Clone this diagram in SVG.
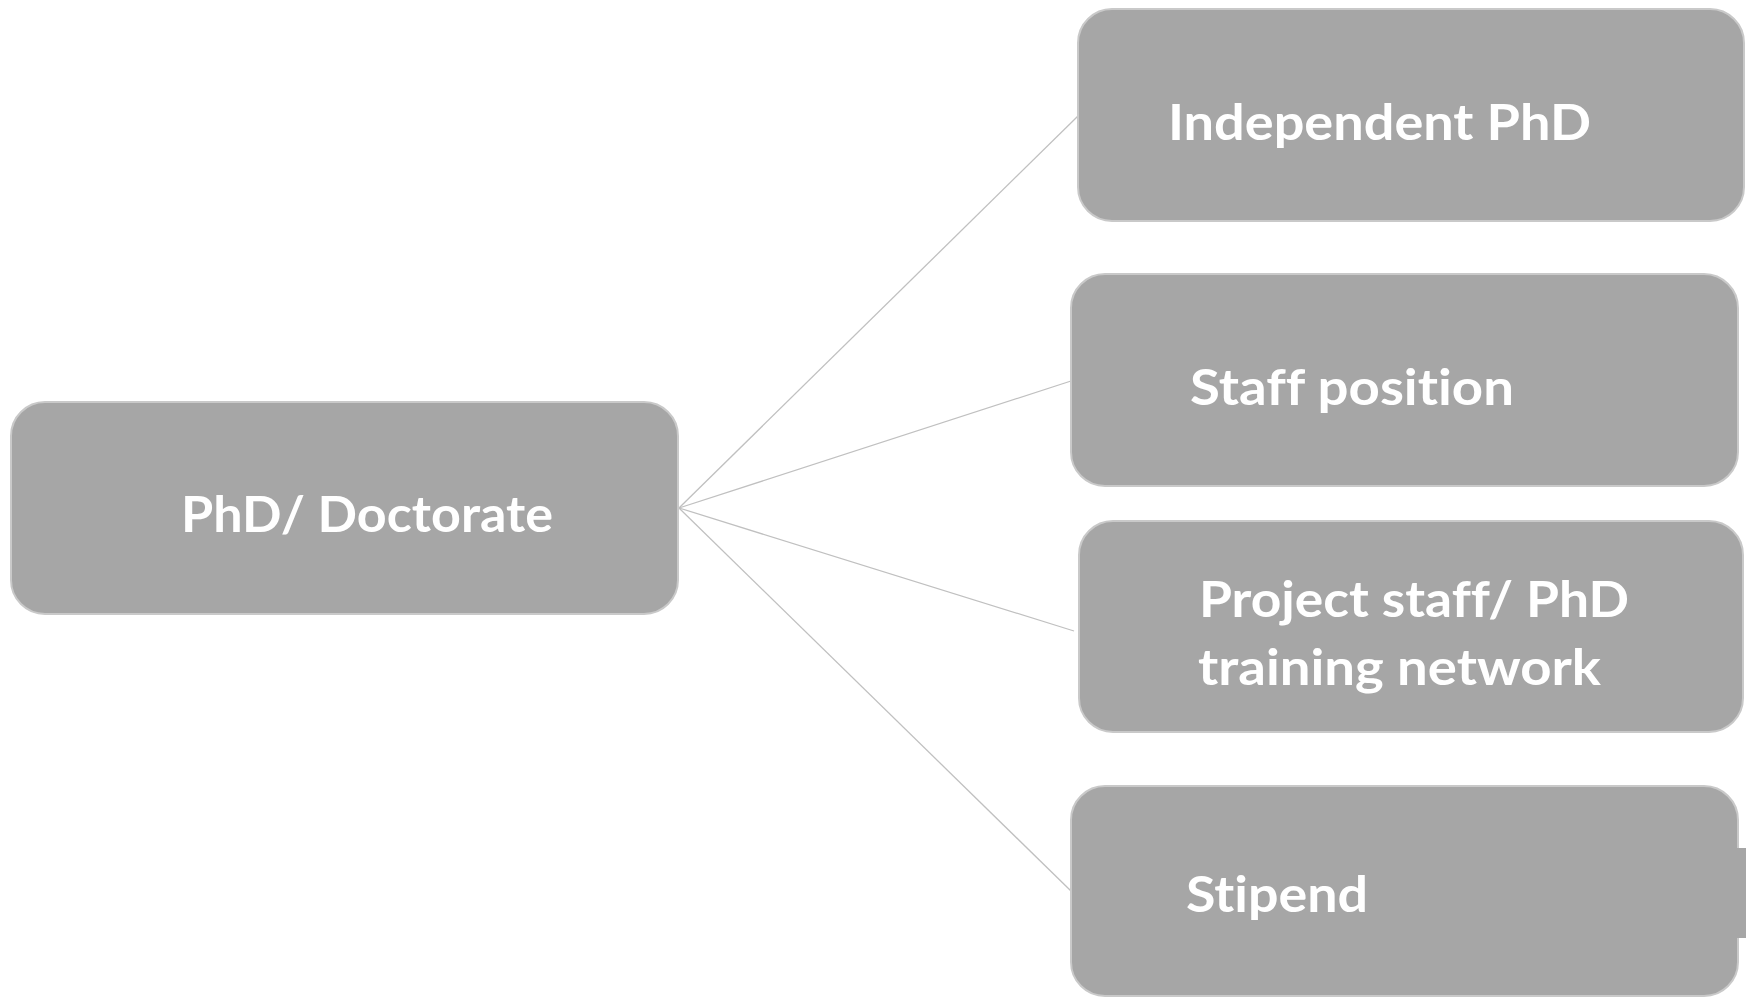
<svg xmlns="http://www.w3.org/2000/svg" width="1750" height="998" viewBox="0 0 1750 998">
<style>
.box{fill:#a6a6a6;stroke:#c9c9c9;stroke-width:2}
.lbl{font-family:Lato,"Open Sans","Liberation Sans",sans-serif;font-weight:bold;font-size:50px;fill:#ffffff;font-variant-ligatures:none;font-feature-settings:"liga" 0,"clig" 0,"dlig" 0}
.conn{stroke:#c0c0c0;stroke-width:1.3;fill:none}
</style>
<rect width="1750" height="998" fill="#ffffff"/>
<g id="connectors">
<line class="conn" x1="679" y1="508" x2="1078" y2="116"/>
<line class="conn" x1="679" y1="508" x2="1071" y2="381"/>
<line class="conn" x1="679" y1="508" x2="1074" y2="631"/>
<line class="conn" x1="679" y1="508" x2="1071" y2="891"/>
</g>
<g id="node-phd">
<rect class="box" x="11" y="402" width="667" height="212" rx="34"/>
<text class="lbl" x="181" y="532" textLength="372" lengthAdjust="spacingAndGlyphs">PhD/ Doctorate</text>
</g>
<g id="node-independent">
<rect class="box" x="1078" y="9" width="666" height="212" rx="34"/>
<text class="lbl" x="1168" y="140" textLength="423" lengthAdjust="spacingAndGlyphs">Independent PhD</text>
</g>
<g id="node-staff">
<rect class="box" x="1071" y="274" width="667" height="212" rx="34"/>
<text class="lbl" x="1190" y="405" textLength="324" lengthAdjust="spacingAndGlyphs">Staff position</text>
</g>
<g id="node-project">
<rect class="box" x="1079" y="521" width="664" height="211" rx="34"/>
<text class="lbl" x="1199" y="617" textLength="430" lengthAdjust="spacingAndGlyphs">Project staff/ PhD</text>
<text class="lbl" x="1198" y="685" textLength="403" lengthAdjust="spacingAndGlyphs">training network</text>
</g>
<g id="node-stipend">
<rect class="box" x="1071" y="786" width="667" height="210" rx="34"/>
<rect x="1737" y="848" width="9" height="90" fill="#a6a6a6"/>
<text class="lbl" x="1186" y="912" textLength="182" lengthAdjust="spacingAndGlyphs">Stipend</text>
</g>
</svg>
